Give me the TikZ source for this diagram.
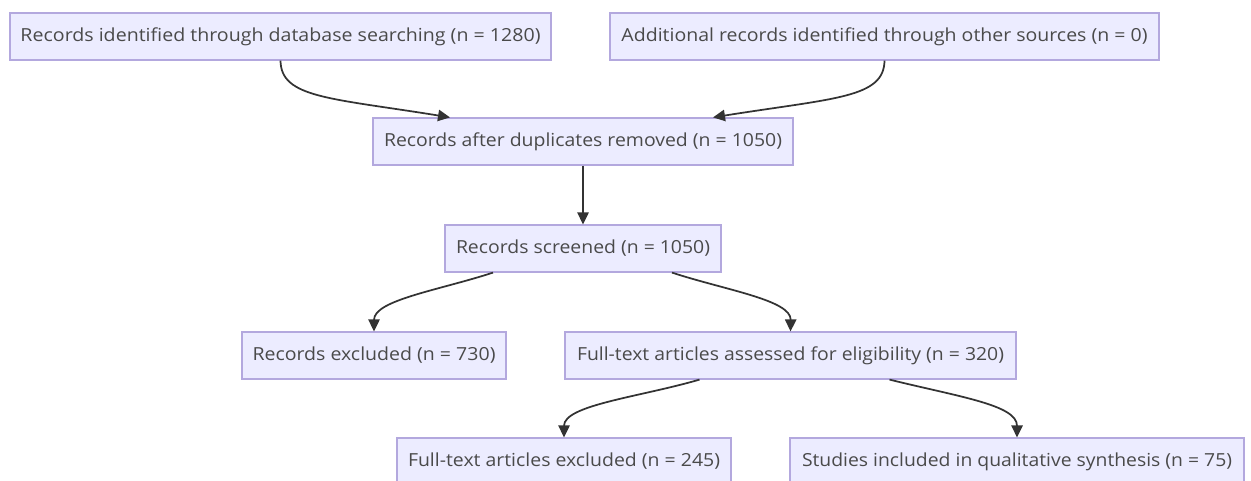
\documentclass[tikz,border=0pt]{standalone}
\usepackage{fontspec}
\usepackage{graphicx}
\setmainfont{Open Sans}
\usetikzlibrary{arrows.meta}
\definecolor{boxfill}{HTML}{ECECFF}
\definecolor{boxline}{HTML}{B3A8DE}
\definecolor{txt}{HTML}{333333}
\definecolor{label}{HTML}{4A4A4A}
\newcommand\ftxt[2]{\resizebox{#1}{\height}{#2}}
\begin{document}
\begin{tikzpicture}[x=0.75pt,y=-0.75pt,
  box/.style={draw=boxline, fill=boxfill, line width=0.9pt, minimum height=35.25pt,
    inner sep=0pt, text=label, font=\fontsize{13.5}{16}\selectfont},
  edge/.style={draw=txt, line width=1.3pt, -{Triangle[length=9pt,width=8.5pt]}}]
\useasboundingbox (0,0) rectangle (1251,481);
\clip (0,0) rectangle (1251,481);
\fill[white] (0,0) rectangle (1251,481);
\node[box, minimum width=405.75pt] (A) at (280.5,36.5) {\ftxt{390pt}{Records identified through database searching (n = 1280)}};
\node[box, minimum width=411.75pt] (B) at (884.5,36.5) {\ftxt{394.5pt}{Additional records identified through other sources (n = 0)}};
\node[box, minimum width=315pt] (C) at (583,141.5) {\ftxt{298.5pt}{Records after duplicates removed (n = 1050)}};
\node[box, minimum width=207pt] (D) at (583,248.5) {\ftxt{190.5pt}{Records screened (n = 1050)}};
\node[box, minimum width=198pt] (E) at (374,355.5) {\ftxt{182.25pt}{Records excluded (n = 730)}};
\node[box, minimum width=338.25pt] (F) at (790.5,355.5) {\ftxt{320.25pt}{Full-text articles assessed for eligibility (n = 320)}};
\node[box, minimum width=250.5pt] (G) at (564,461.5) {\ftxt{234pt}{Full-text articles excluded (n = 245)}};
\node[box, minimum width=340.5pt] (H) at (1017,461.5) {\ftxt{322.5pt}{Studies included in qualitative synthesis (n = 75)}};
\draw[edge] (A.south) .. controls (281,98) and (330,98) .. ([xshift=-99.75pt]C.north);
\draw[edge] (B.south) .. controls (884,98) and (835,98) .. ([xshift=97.5pt]C.north);
\draw[edge] (C.south) -- (D.north);
\draw[edge] ([xshift=-67.5pt]D.south) .. controls (440,290) and (374,300) .. (E.north);
\draw[edge] ([xshift=66.75pt]D.south) .. controls (725,290) and (791,300) .. (F.north);
\draw[edge] ([xshift=-68.25pt]F.south) .. controls (640,397) and (564,405) .. (G.north);
\draw[edge] ([xshift=74.25pt]F.south) .. controls (960,397) and (1017,405) .. (H.north);
\end{tikzpicture}
\end{document}
